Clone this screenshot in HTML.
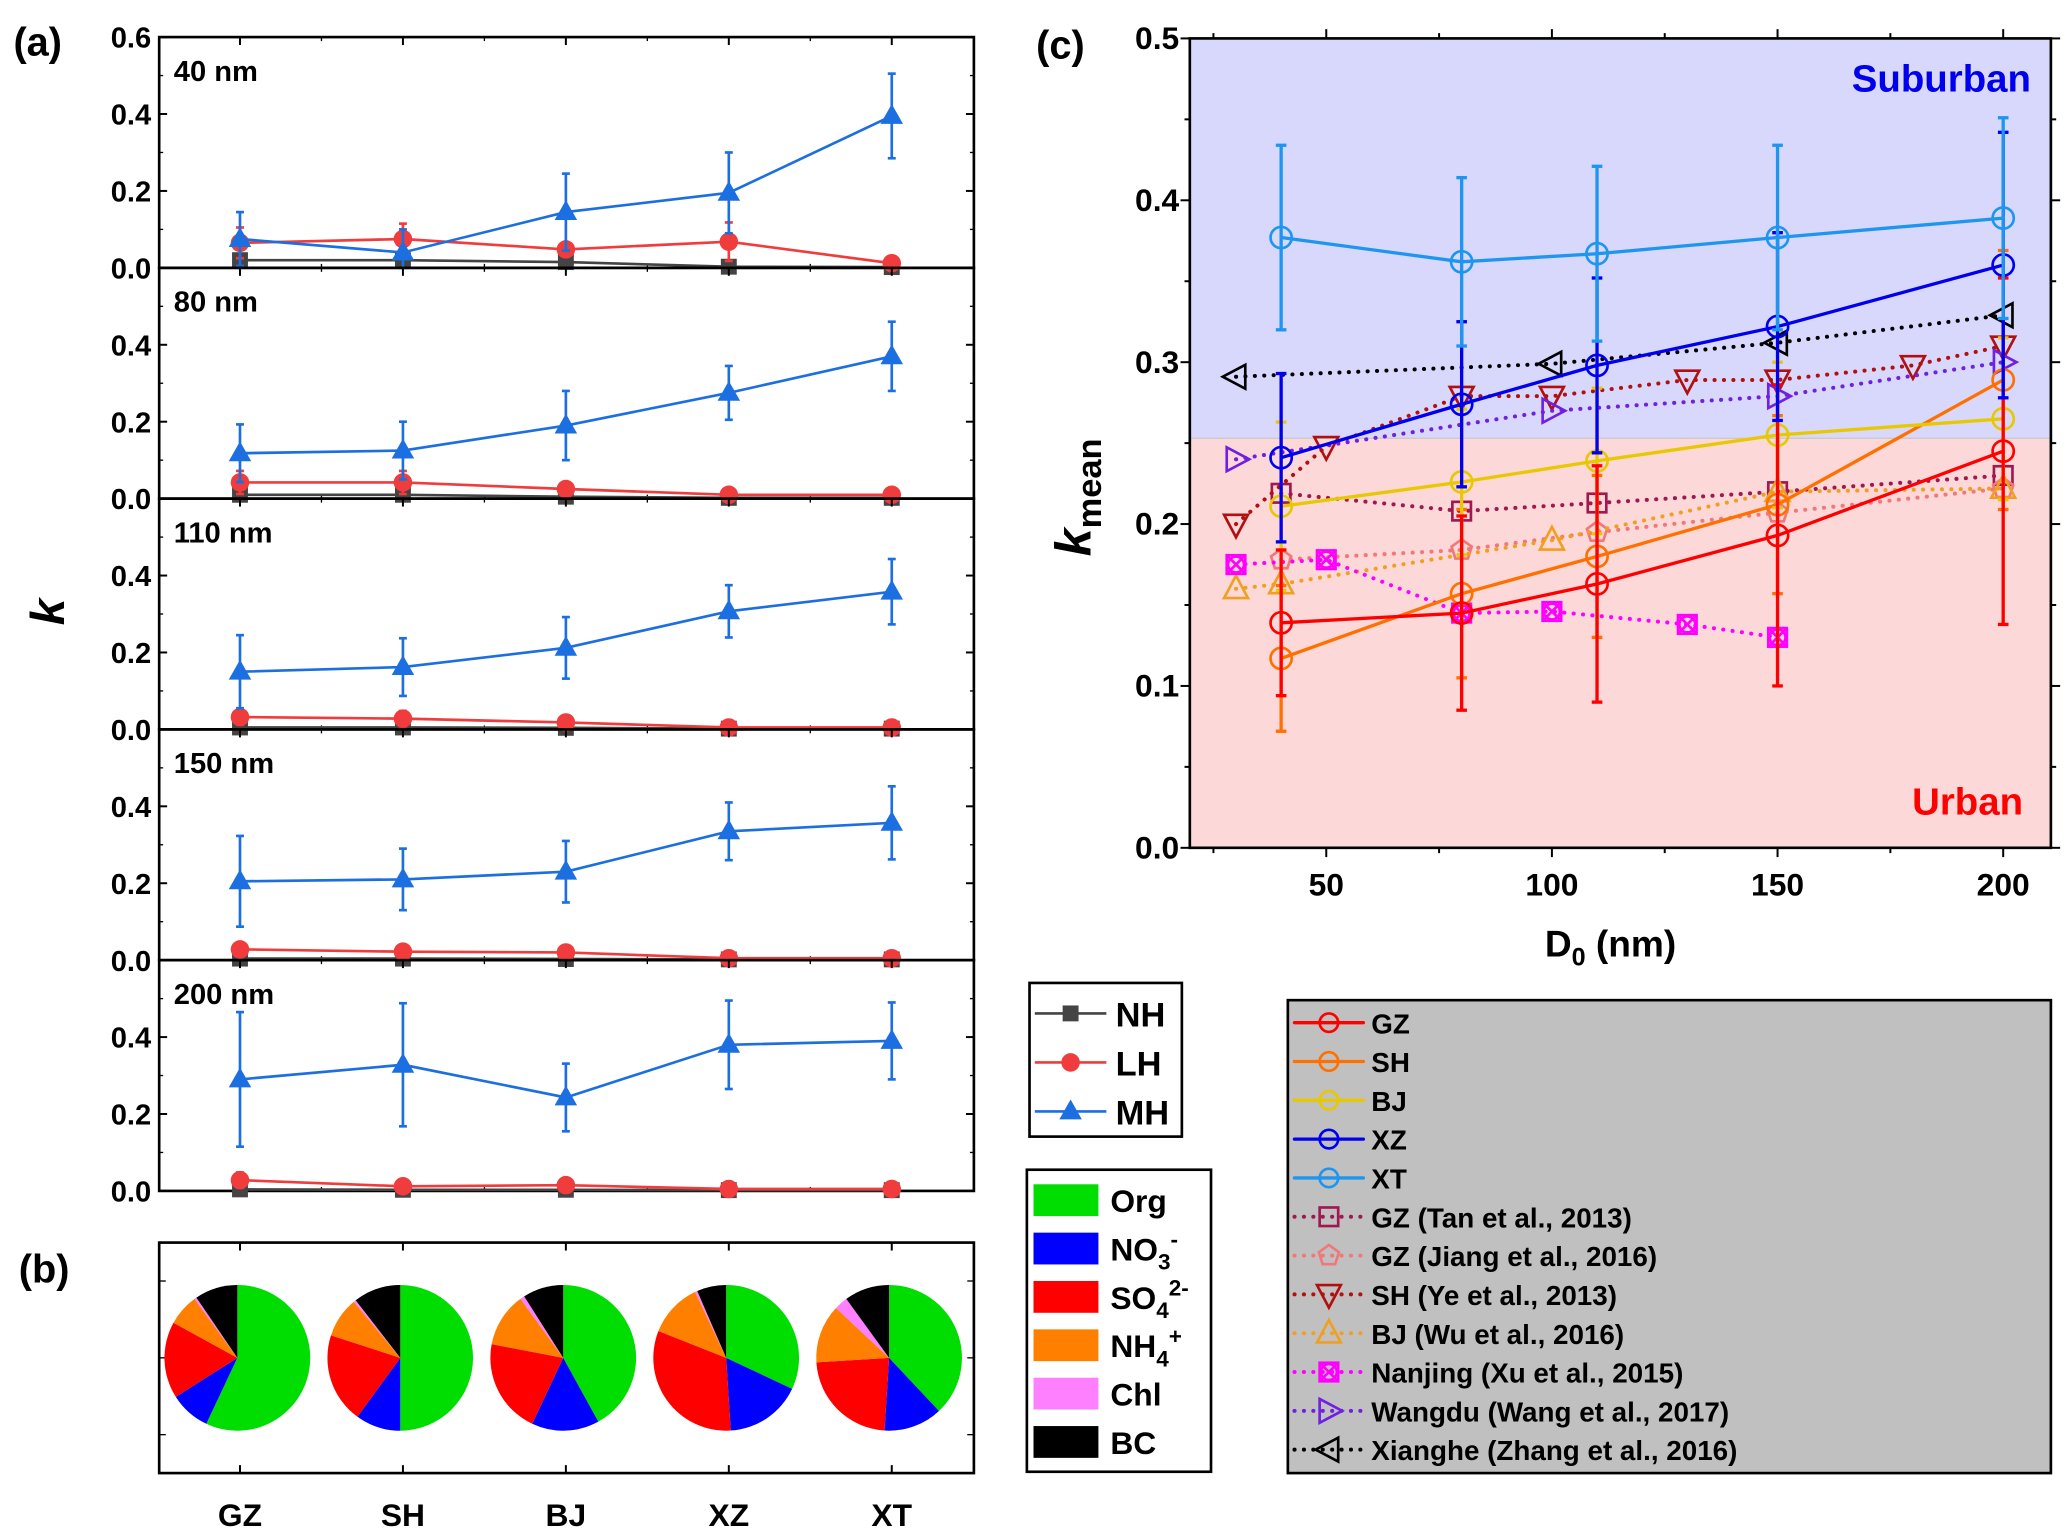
<!DOCTYPE html>
<html><head><meta charset="utf-8"><style>
html,body{margin:0;padding:0;background:#fff}
svg{display:block}
text{font-family:"Liberation Sans Narrow","Liberation Sans",sans-serif;font-weight:bold;fill:#000}
</style></head><body>
<svg id="fig" width="2067" height="1538" viewBox="0 0 1560 1161" xmlns="http://www.w3.org/2000/svg"></svg>
<script>
// ---------- Panel (a) data ----------
const cats = ["GZ","SH","BJ","XZ","XT"];
const sizes = ["40 nm","80 nm","110 nm","150 nm","200 nm"];
const mhVals = [[0.075,0.04,0.145,0.195,0.395],[0.118,0.125,0.19,0.275,0.37],[0.15,0.162,0.212,0.307,0.358],[0.205,0.21,0.23,0.335,0.357],[0.29,0.328,0.243,0.38,0.39]];
const mhErr = [[0.07,0.06,0.1,0.105,0.11],[0.075,0.075,0.09,0.07,0.09],[0.095,0.075,0.08,0.068,0.085],[0.118,0.08,0.08,0.075,0.095],[0.175,0.16,0.088,0.115,0.1]];
const lhVals = [[0.065,0.075,0.048,0.068,0.012],[0.042,0.042,0.025,0.01,0.01],[0.032,0.028,0.018,0.005,0.005],[0.028,0.022,0.02,0.005,0.005],[0.028,0.012,0.015,0.005,0.005]];
const lhErr = [[0.04,0.04,0.015,0.05,0.005],[0.03,0.03,0.01,0.005,0.005],[0.02,0.02,0.01,0.005,0.005],[0.015,0.01,0.01,0.005,0.005],[0.02,0.005,0.008,0.005,0.005]];
const nhVals = [[0.02,0.02,0.015,0.003,0.002],[0.01,0.01,0.005,0.002,0.002],[0.005,0.005,0.004,0.002,0.002],[0.004,0.004,0.003,0.002,0.002],[0.004,0.003,0.003,0.002,0.002]];
const aTicks = [0,0.2,0.4];
// ---------- Panel (b) data ----------
const compNames = ["Org","NO3","SO4","NH4","Chl","BC"];
const compColors = ["#00dd00","#0000ff","#ff0000","#ff8000","#ff80ff","#000000"];
const comp = [[57,9,17,7,0.5,9.5],[50,10,20,9,0.5,10.5],[42,15,21,12,1,9],[32,17,32,12,0.5,6.5],[38,13,23,13,3,10]];
// ---------- Panel (c) data ----------
const cXTicks = [50,100,150,200];
const cYTicks = [0,0.1,0.2,0.3,0.4,0.5];
const dMain = [40,80,110,150,200];
const gzVals=[0.139,0.145,0.163,0.193,0.245], gzErr=[0.045,0.06,0.073,0.093,0.107];
const shVals=[0.117,0.157,0.180,0.212,0.289], shErr=[0.045,0.052,0.05,0.055,0.08];
const bjVals=[0.211,0.226,0.239,0.255,0.265], bjErr=[0.052,0.045,0.045,0.045,0.05];
const xzVals=[0.241,0.274,0.298,0.322,0.360], xzErr=[0.052,0.051,0.054,0.058,0.082];
const xtVals=[0.377,0.362,0.367,0.377,0.389], xtErr=[0.057,0.052,0.054,0.057,0.062];
const tanX=[40,80,110,150,200], tanVals=[0.219,0.208,0.213,0.220,0.230];
const jiangX=[40,80,110,150,200], jiangVals=[0.178,0.184,0.195,0.207,0.222];
const yeX=[30,50,80,100,130,150,180,200], yeVals=[0.200,0.248,0.279,0.279,0.289,0.289,0.298,0.310];
const wuX=[30,40,100,150,200], wuVals=[0.160,0.163,0.190,0.220,0.222];
const njX=[30,50,80,100,130,150], njVals=[0.175,0.178,0.145,0.146,0.138,0.130];
const wdX=[30,100,150,200], wdVals=[0.240,0.270,0.279,0.300];
const xhX=[30,100,150,200], xhVals=[0.291,0.299,0.312,0.329];
const divider = 0.253;

const NS="http://www.w3.org/2000/svg";
const svg=document.getElementById('fig');
function mk(tag,attrs,parent){const e=document.createElementNS(NS,tag);for(const k in attrs)e.setAttribute(k,attrs[k]);(parent||svg).appendChild(e);return e;}
function txt(s,x,y,size,anchor,parent){const t=mk('text',{x:x,y:y,'font-size':size,'text-anchor':anchor||'start'},parent);t.textContent=s;return t;}

// ===== Panel (a) =====
const aL=120,aR=735,aTop=28,aH=174.2;
const ax=i=>181+i*123;
const lbl=txt('(a)',10,42,30);


const kt=txt('k',40,470,36,'middle');
kt.setAttribute('font-family','Liberation Serif');kt.setAttribute('font-style','italic');
kt.setAttribute('transform','rotate(-90 40 462)');


function marker(g,type,x,y,color,sz){
  if(type==='sq') mk('rect',{x:x-6,y:y-6,width:12,height:12,fill:color},g);
  else if(type==='ci') mk('circle',{cx:x,cy:y,r:7,fill:color},g);
  else if(type==='tri') mk('polygon',{points:`${x},${y-9} ${x+8.5},${y+6} ${x-8.5},${y+6}`,fill:color},g);
}
for(let p=0;p<5;p++){
  const top=aTop+p*aH, bot=top+aH;
  const ay=v=>bot-v/0.6*aH;
  const g=mk('g',{});
  
  
  mk('rect',{x:aL,y:top,width:aR-aL,height:aH,fill:'none',stroke:'#000','stroke-width':2},g);
  for(let i=0;i<5;i++){mk('line',{x1:ax(i),x2:ax(i),y1:bot,y2:bot-6,stroke:'#000','stroke-width':1.5},g);mk('line',{x1:ax(i),x2:ax(i),y1:top,y2:top+6,stroke:'#000','stroke-width':1.5},g);
    if(i<4){const m=ax(i)+61.5;mk('line',{x1:m,x2:m,y1:bot,y2:bot-3,stroke:'#000'},g);mk('line',{x1:m,x2:m,y1:top,y2:top+3,stroke:'#000'},g);}}
  const tks=p===0?[0,0.2,0.4,0.6]:aTicks;
  tks.forEach(v=>{const y=ay(v);mk('line',{x1:aL,x2:aL+6,y1:y,y2:y,stroke:'#000','stroke-width':1.5},g);mk('line',{x1:aR,x2:aR-6,y1:y,y2:y,stroke:'#000','stroke-width':1.5},g);
    const t=txt(v.toFixed(1),aL-6,y+8,22,'end',g);});
  [0.1,0.3,0.5].forEach(v=>{const y=ay(v);mk('line',{x1:aL,x2:aL+3,y1:y,y2:y,stroke:'#000'},g);mk('line',{x1:aR,x2:aR-3,y1:y,y2:y,stroke:'#000'},g);});
  txt(sizes[p],131,top+33,22,'start',g);
  const series=[[nhVals[p],null,'#444444','sq'],[lhVals[p],lhErr[p],'#f03c3c','ci'],[mhVals[p],mhErr[p],'#1c6fe0','tri']];
  series.forEach(([vals,err,col,mt],si)=>{
    const sg=mk('g',{},g);
    
    
    mk('polyline',{points:vals.map((v,i)=>`${ax(i)},${ay(v)}`).join(' '),fill:'none',stroke:col,'stroke-width':2},sg);
    vals.forEach((v,i)=>{
      if(err){const y1=ay(v+err[i]),y2=ay(Math.max(0,v-err[i]));mk('line',{x1:ax(i),x2:ax(i),y1:y1,y2:y2,stroke:col,'stroke-width':2},sg);
        mk('line',{x1:ax(i)-3,x2:ax(i)+3,y1:y1,y2:y1,stroke:col,'stroke-width':2},sg);mk('line',{x1:ax(i)-3,x2:ax(i)+3,y1:y2,y2:y2,stroke:col,'stroke-width':2},sg);}
      marker(sg,mt,ax(i),ay(v),col);
    });
  });
}
// legend a
const la=mk('g',{});
mk('rect',{x:777,y:742,width:115,height:116,fill:'#fff',stroke:'#000','stroke-width':2},la);
[['NH','#444444','sq'],['LH','#f03c3c','ci'],['MH','#1c6fe0','tri']].forEach(([n,c,m],i)=>{const y=765+i*37;
  mk('line',{x1:781,x2:835,y1:y,y2:y,stroke:c,'stroke-width':2},la);marker(la,m,808,y,c);txt(n,842,y+10,26,'start',la);});

// ===== Panel (b) =====
const lb=txt('(b)',14,968,30);
const pb=mk('g',{});
mk('rect',{x:aL,y:938,width:aR-aL,height:174,fill:'#fff',stroke:'#000','stroke-width':2},pb);
for(let i=0;i<5;i++){mk('line',{x1:ax(i),x2:ax(i),y1:938,y2:944,stroke:'#000','stroke-width':1.5},pb);mk('line',{x1:ax(i),x2:ax(i),y1:1112,y2:1106,stroke:'#000','stroke-width':1.5},pb);
  const t=txt(cats[i],ax(i),1152,24,'middle',pb);}
[967,1025,1083].forEach(y=>{mk('line',{x1:aL,x2:aL+5,y1:y,y2:y,stroke:'#000'},pb);mk('line',{x1:aR,x2:aR-5,y1:y,y2:y,stroke:'#000'},pb);});
comp.forEach((fr,i)=>{
  const cx=ax(i)-2,cy=1025,r=55;let a0=0;const tot=fr.reduce((a,b)=>a+b,0);
  fr.forEach((f,j)=>{const a1=a0+f/tot*2*Math.PI;
    const x0=cx+r*Math.sin(a0),y0=cy-r*Math.cos(a0),x1=cx+r*Math.sin(a1),y1=cy-r*Math.cos(a1);
    const s=mk('path',{d:`M${cx},${cy} L${x0},${y0} A${r},${r} 0 ${a1-a0>Math.PI?1:0} 1 ${x1},${y1} Z`,fill:compColors[j]},pb);
    
    
    a0=a1;});
});
// comp legend
const lc=mk('g',{});
mk('rect',{x:775,y:883,width:139,height:228,fill:'#fff',stroke:'#000','stroke-width':2},lc);
const cl=[['Org','',''],['NO','3','-'],['SO','4','2-'],['NH','4','+'],['Chl','',''],['BC','','']];
cl.forEach(([b,sub,sup],j)=>{const y=906+j*36.5;mk('rect',{x:780,y:y-12,width:49,height:24,fill:compColors[j]},lc);
  const t=txt('',838,y+9,24,'start',lc);t.appendChild(document.createTextNode(b));
  if(sub){const s1=document.createElementNS(NS,'tspan');s1.setAttribute('dy','7');s1.setAttribute('font-size','17');s1.textContent=sub;t.appendChild(s1);
    const s2=document.createElementNS(NS,'tspan');s2.setAttribute('dy','-17');s2.setAttribute('font-size','17');s2.textContent=sup;t.appendChild(s2);}
});

// ===== Panel (c) =====
const cL=898,cR=1548,cT=29,cB=640;
const cx=d=>831+(d)*(1512-1001)/150+ (1001-831-50*(511/150));
const cy=v=>cB-v/0.5*(cB-cT);
const lcl=txt('(c)',782,44,30);
const pc=mk('g',{});
mk('rect',{x:cL,y:cT,width:cR-cL,height:cy(divider)-cT,fill:'#d8d8fc'},pc);
mk('rect',{x:cL,y:cy(divider),width:cR-cL,height:cB-cy(divider),fill:'#fcd8d8'},pc);
mk('line',{x1:cL,x2:cR,y1:cy(divider),y2:cy(divider),stroke:'#c8c8c8','stroke-width':1},pc);
mk('rect',{x:cL,y:cT,width:cR-cL,height:cB-cT,fill:'none',stroke:'#000','stroke-width':2},pc);
for(let d=25;d<=200;d+=25){const x=cx(d),mj=d%50===0?7:4;mk('line',{x1:x,x2:x,y1:cB,y2:cB+mj,stroke:'#000','stroke-width':1.5},pc);mk('line',{x1:x,x2:x,y1:cT,y2:cT-mj,stroke:'#000','stroke-width':1.5},pc);}
cXTicks.forEach(d=>txt(String(d),cx(d),676,24,'middle',pc));
for(let v=0;v<=0.5001;v+=0.05){const y=cy(v),mj=Math.abs(v*10-Math.round(v*10))<1e-6?7:4;mk('line',{x1:cL,x2:cL-mj,y1:y,y2:y,stroke:'#000','stroke-width':1.5},pc);mk('line',{x1:cR,x2:cR+mj,y1:y,y2:y,stroke:'#000','stroke-width':1.5},pc);}
cYTicks.forEach(v=>txt(v.toFixed(1),cL-8,cy(v)+8,24,'end',pc));
const xt=txt('D',1166,722,28,'start');
const s0=document.createElementNS(NS,'tspan');s0.setAttribute('dy','7');s0.setAttribute('font-size','19');s0.textContent='0';xt.appendChild(s0);
const s1=document.createElementNS(NS,'tspan');s1.setAttribute('dy','-7');s1.textContent=' (nm)';xt.appendChild(s1);
const yt=mk('text',{x:0,y:0,'font-size':38,'font-family':'Liberation Serif',transform:'translate(823 420) rotate(-90)'});

const yk=document.createElementNS(NS,'tspan');yk.setAttribute('font-style','italic');yk.textContent='k';yt.appendChild(yk);
const ym=document.createElementNS(NS,'tspan');ym.setAttribute('dy','8');ym.setAttribute('font-size','26');ym.textContent='mean';yt.appendChild(ym);
const sub=txt('Suburban',1533,69,29,'end');sub.setAttribute('fill','#0000ee');sub.style.fill='#0000ee';
const urb=txt('Urban',1527,615,29,'end');urb.style.fill='#ff0000';

function cmark(g,type,x,y,col,s){
  s=s||8;const base={fill:'none',stroke:col,'stroke-width':2};
  if(type==='o') mk('circle',Object.assign({cx:x,cy:y,r:s},base),g);
  else if(type==='sq') mk('rect',Object.assign({x:x-7,y:y-7,width:14,height:14},base),g);
  else if(type==='pent'){let p=[];for(let k=0;k<5;k++){const a=-Math.PI/2+k*2*Math.PI/5;p.push(`${x+8*Math.cos(a)},${y+8*Math.sin(a)}`);}mk('polygon',Object.assign({points:p.join(' ')},base),g);}
  else if(type==='dn') mk('polygon',Object.assign({points:`${x-9},${y-7} ${x+9},${y-7} ${x},${y+10}`},base),g);
  else if(type==='up') mk('polygon',Object.assign({points:`${x-9},${y+7} ${x+9},${y+7} ${x},${y-10}`},base),g);
  else if(type==='rt') mk('polygon',Object.assign({points:`${x-7},${y-9} ${x-7},${y+9} ${x+10},${y}`},base),g);
  else if(type==='lt') mk('polygon',Object.assign({points:`${x+7},${y-9} ${x+7},${y+9} ${x-10},${y}`},base),g);
  else if(type==='bx'){mk('rect',Object.assign({x:x-7,y:y-7,width:14,height:14},base),g);mk('circle',Object.assign({cx:x,cy:y,r:6},base),g);
    mk('path',{d:`M${x-6},${y-6}L${x+6},${y+6}M${x+6},${y-6}L${x-6},${y+6}`,stroke:col,'stroke-width':2},g);}
}
const cseries=[
 ['GZ',dMain,gzVals,gzErr,'#ff0000','o',false],
 ['SH',dMain,shVals,shErr,'#ff7000','o',false],
 ['BJ',dMain,bjVals,bjErr,'#e8c800','o',false],
 ['XZ',dMain,xzVals,xzErr,'#0000ee','o',false],
 ['XT',dMain,xtVals,xtErr,'#1e96f0','o',false],
 ['GZ (Tan et al., 2013)',tanX,tanVals,null,'#a01850','sq',true],
 ['GZ (Jiang et al., 2016)',jiangX,jiangVals,null,'#f07878','pent',true],
 ['SH (Ye et al., 2013)',yeX,yeVals,null,'#b01010','dn',true],
 ['BJ (Wu et al., 2016)',wuX,wuVals,null,'#f0a020','up',true],
 ['Nanjing (Xu et al., 2015)',njX,njVals,null,'#ff00ff','bx',true],
 ['Wangdu (Wang et al., 2017)',wdX,wdVals,null,'#7020e0','rt',true],
 ['Xianghe (Zhang et al., 2016)',xhX,xhVals,null,'#000000','lt',true]];
const drawOrder=[5,6,7,8,9,10,11,1,2,0,3,4];
drawOrder.forEach(si=>{const [name,xs,vals,err,col,mt,dot]=cseries[si];
  const g=mk('g',{},pc);
  
  
  mk('polyline',{points:vals.map((v,i)=>`${cx(xs[i])},${cy(v)}`).join(' '),fill:'none',stroke:col,'stroke-width':dot?3:2.5,'stroke-dasharray':dot?'0.1 7':'none','stroke-linecap':'round'},g);
  vals.forEach((v,i)=>{const x=cx(xs[i]),y=cy(v);
    if(err){const y1=cy(v+err[i]),y2=cy(v-err[i]);mk('line',{x1:x,x2:x,y1:y1,y2:y2,stroke:col,'stroke-width':2.5},g);
      mk('line',{x1:x-4,x2:x+4,y1:y1,y2:y1,stroke:col,'stroke-width':2.5},g);mk('line',{x1:x-4,x2:x+4,y1:y2,y2:y2,stroke:col,'stroke-width':2.5},g);}
    cmark(g,mt,x,y,col);});
});
// legend c
const lg=mk('g',{});
mk('rect',{x:972,y:755,width:576,height:357,fill:'#c0c0c0',stroke:'#000','stroke-width':2},lg);
cseries.forEach(([name,xs,vals,err,col,mt,dot],i)=>{const y=772+i*29.3;
  mk('line',{x1:977,x2:1029,y1:y,y2:y,stroke:col,'stroke-width':dot?3:2.5,'stroke-dasharray':dot?'0.1 7':'none','stroke-linecap':'round'},lg);
  cmark(lg,mt,1003,y,col,7);txt(name,1035,y+8,21,'start',lg);});
</script>
</body></html>
